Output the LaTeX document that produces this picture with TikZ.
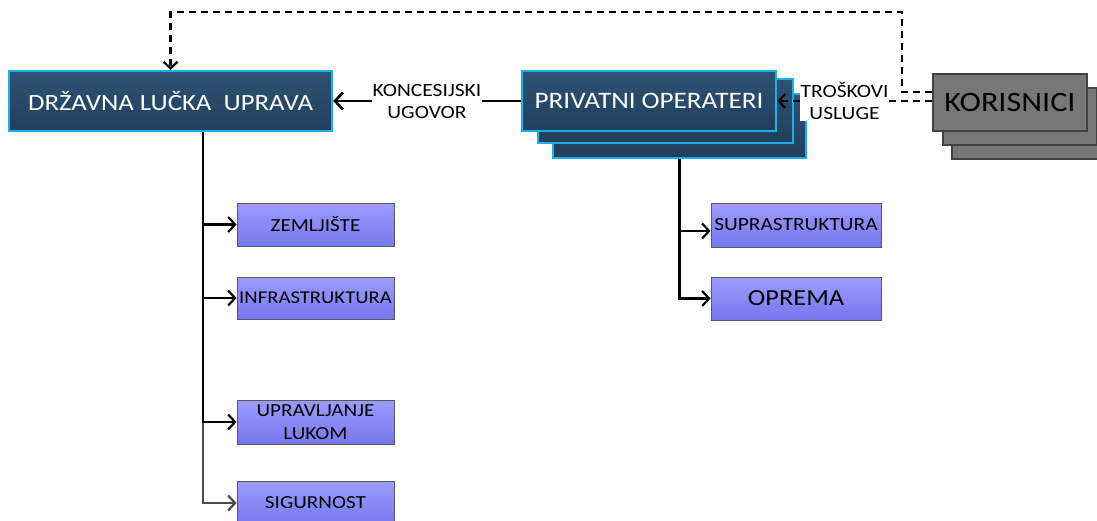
\documentclass[tikz,border=0pt]{standalone}
\usepackage{fontspec}
\setmainfont[FakeStretch=1.15]{Carlito}
\usetikzlibrary{arrows.meta}
\definecolor{navyT}{HTML}{2D5275}
\definecolor{navyB}{HTML}{223F5C}
\definecolor{cyanb}{HTML}{1BB0E8}
\definecolor{purpT}{HTML}{9C9CFF}
\definecolor{purpB}{HTML}{7676EE}
\definecolor{greyF}{HTML}{777777}
\definecolor{greyD}{HTML}{424242}
\begin{document}
\begin{tikzpicture}[x=1pt,y=-1pt,
  bluebox/.style={draw=cyanb, line width=2.4pt, top color=navyT, bottom color=navyB,
    text=white, font=\fontsize{23.3}{27}\selectfont, inner sep=0pt},
  greybox/.style={draw=greyD, line width=2pt, fill=greyF, text=black,
    font=\fontsize{28}{32}\selectfont, inner sep=0pt, minimum width=154pt, minimum height=57pt},
  pbox/.style={draw=black!65, line width=0.8pt, top color=purpT, bottom color=purpB,
    text=black, font=\fontsize{18.4}{23}\selectfont, inner sep=0pt, align=center,
    minimum height=43pt},
  lbl/.style={fill=white, align=center, font=\fontsize{18.7}{22}\selectfont, inner sep=1pt, text=black},
  conn/.style={line width=2.6pt, -{Straight Barb[length=8pt,width=17pt,line width=2.6pt]}},
  small/.style={line width=2.2pt, -{Straight Barb[length=7pt,width=15pt,line width=2.2pt]}},
  dasharr/.style={line width=2.2pt, dash pattern=on 7pt off 5pt,
    -{Straight Barb[length=6.5pt,width=14pt,line width=2.2pt]}}
]
\useasboundingbox (0,0) rectangle (1097,520);

% main boxes
\node[bluebox, minimum width=323pt, minimum height=60pt] (dlu) at (170.5,101) {DRŽAVNA LUČKA\ \ UPRAVA};

\node[bluebox, minimum width=253pt, minimum height=64pt] (po3) at (679.5,126) {};
\node[bluebox, minimum width=255pt, minimum height=64pt] (po2) at (665.5,111) {};
\node[bluebox, minimum width=254pt, minimum height=60pt, font=\fontsize{23.6}{27}\selectfont] (po) at (649,101) {PRIVATNI OPERATERI};

\node[greybox] (kor3) at (1029,130.5) {};
\node[greybox] (kor2) at (1019.5,116.5) {};
\node[greybox] (kor) at (1010,102.5) {KORISNICI};

% purple boxes
\node[pbox, minimum width=157pt] (zem) at (315.5,224.5) {ZEMLJIŠTE};
\node[pbox, minimum width=157pt, minimum height=42pt, font=\fontsize{18}{22}\selectfont] (inf) at (315.5,298) {INFRASTRUKTURA};
\node[pbox, minimum width=157pt, minimum height=44pt] (upr) at (315.5,422) {UPRAVLJANJE\\LUKOM};
\node[pbox, minimum width=157pt, minimum height=44pt] (sig) at (315.5,503) {SIGURNOST};
\node[pbox, minimum width=170pt, minimum height=44pt, font=\fontsize{18.6}{22}\selectfont] (sup) at (796,225) {SUPRASTRUKTURA};
\node[pbox, minimum width=170pt, minimum height=43pt, font=\fontsize{23}{26}\selectfont] (opr) at (796,298.5) {OPREMA};

% concession contract
\draw[conn] (po.west) -- node[lbl, pos=0.5] {KONCESIJSKI\\UGOVOR} (dlu.east);

% costs of service
\coordinate (k1) at (kor.west |- 0,101);
\coordinate (k2) at (kor.west |- 0,92);
\coordinate (topr) at (902,12);
\draw[dasharr] (k1) -- node[lbl, pos=0.565] {TROŠKOVI\\USLUGE} (po.east);
\draw[dasharr] (k2) -| (topr) -| (dlu.north);

% DLU tree
\path (dlu.south) ++(32.5,0) coordinate (t1);
\draw[small, draw=black!70] (t1) |- (sig.west);
\draw[small] (t1) |- (upr.west);
\draw[small] (t1) |- (inf.west);
\draw[small] (t1) |- (zem.west);

% PO tree
\coordinate (t2) at (po3.south);
\draw[small] (t2) |- ([yshift=-6pt]sup.west);
\draw[small] (t2) |- (opr.west);
\end{tikzpicture}
\end{document}
